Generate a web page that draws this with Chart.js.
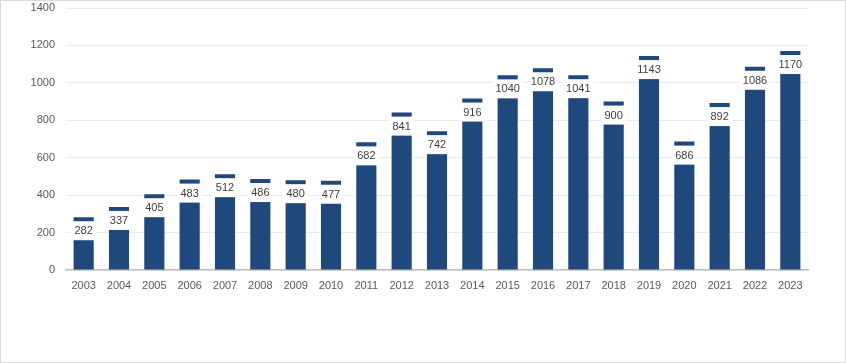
<!DOCTYPE html>
<html>
<head>
<meta charset="utf-8">
<script src="https://cdn.jsdelivr.net/npm/chart.js@4"></script>
<style>
  html, body { margin: 0; padding: 0; background: #fff; }
  #wrap { width: 844px; height: 361px; border: 1px solid #d9d9d9; position: relative; }
</style>
</head>
<body>
<div id="wrap"><canvas id="chart" width="844" height="361"></canvas></div>
<script>
const anos = ['2003','2004','2005','2006','2007','2008','2009','2010','2011','2012','2013','2014','2015','2016','2017','2018','2019','2020','2021','2022','2023'];
const valores = [282, 337, 405, 483, 512, 486, 480, 477, 682, 841, 742, 916, 1040, 1078, 1041, 900, 1143, 686, 892, 1086, 1170];
const yMax = 1400;
const yStep = 200;

const fonte = '"Liberation Sans", Arial, sans-serif';

// rótulos com fundo branco dentro do topo da barra
const rotulosPlugin = {
  id: 'rotulos',
  afterDatasetsDraw(chart) {
    const ctx = chart.ctx;
    const meta = chart.getDatasetMeta(0);
    ctx.save();
    ctx.font = '11px ' + fonte;
    ctx.textAlign = 'center';
    ctx.textBaseline = 'middle';
    meta.data.forEach((bar, i) => {
      const txt = String(valores[i]);
      const w = ctx.measureText(txt).width + 6;
      const top = bar.y + 4;
      ctx.fillStyle = '#ffffff';
      ctx.fillRect(bar.x - w / 2, top, w, 19);
      ctx.fillStyle = '#404040';
      ctx.fillText(txt, bar.x, top + 10);
    });
    ctx.restore();
  }
};

new Chart(document.getElementById('chart').getContext('2d'), {
  type: 'bar',
  data: {
    labels: anos,
    datasets: [{
      data: valores,
      backgroundColor: '#1f497d',
      barPercentage: 0.57,
      categoryPercentage: 1
    }]
  },
  options: {
    responsive: false,
    animation: false,
    layout: { padding: { top: 0, right: 37, left: 0, bottom: 0 } },
    plugins: { legend: { display: false }, tooltip: { enabled: false } },
    scales: {
      x: {
        grid: { display: false, drawTicks: false },
        border: { display: true, color: '#bfbfbf', width: 1.5 },
        ticks: { color: '#595959', font: { family: fonte, size: 11 }, padding: 9, maxRotation: 0, autoSkip: false },
        afterFit(scale) { scale.height = 92; }
      },
      y: {
        min: 0,
        max: yMax,
        ticks: {
          stepSize: yStep,
          color: '#595959',
          font: { family: fonte, size: 11 },
          padding: 11,
          callback: v => String(v)
        },
        grid: { color: '#ebebeb', drawTicks: false },
        border: { display: false },
        afterFit(scale) {
          scale.width = 65;
          scale.paddingTop = 7;
          scale.paddingBottom = 0;
        }
      }
    }
  },
  plugins: [rotulosPlugin]
});
</script>
</body>
</html>
